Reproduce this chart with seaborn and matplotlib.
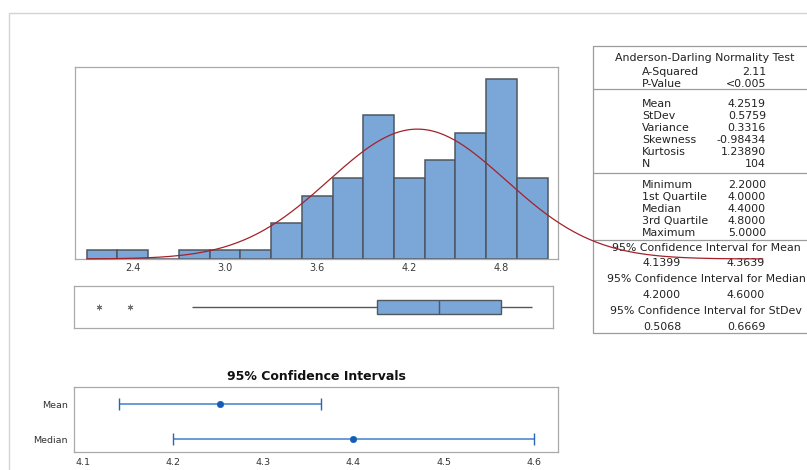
import numpy as np
import matplotlib
matplotlib.use("Agg")
from matplotlib import pyplot as plt
import seaborn as sns

# histogram bins (centres) and counts
bin_centers = [2.2, 2.4, 2.6, 2.8, 3.0, 3.2, 3.4, 3.6, 3.8, 4.0, 4.2, 4.4, 4.6, 4.8, 5.0]
bin_counts = [1, 1, 0, 1, 1, 1, 4, 7, 9, 16, 9, 11, 14, 20, 9]
bin_width = 0.2
hist_ticks = [2.4, 3.0, 3.6, 4.2, 4.8]

# summary statistics
mean_val = 4.2519
stdev_val = 0.5759
ad_labels = ["A-Squared", "P-Value"]
ad_values = ["2.11", "<0.005"]
moment_labels = ["Mean", "StDev", "Variance", "Skewness", "Kurtosis", "N"]
moment_values = ["4.2519", "0.5759", "0.3316", "-0.98434", "1.23890", "104"]
quart_labels = ["Minimum", "1st Quartile", "Median", "3rd Quartile", "Maximum"]
quart_values = ["2.2000", "4.0000", "4.4000", "4.8000", "5.0000"]
ci_titles = ["95% Confidence Interval for Mean",
             "95% Confidence Interval for Median",
             "95% Confidence Interval for StDev"]
ci_low = ["4.1399", "4.2000", "0.5068"]
ci_high = ["4.3639", "4.6000", "0.6669"]

# confidence interval plot
ci_names = ["Mean", "Median"]
ci_points = [4.2519, 4.4]
ci_lo = [4.1399, 4.2]
ci_hi = [4.3639, 4.6]
ci_ticks = [4.1, 4.2, 4.3, 4.4, 4.5, 4.6]

sample = np.repeat(bin_centers, bin_counts)
edges = np.append(np.array(bin_centers) - bin_width / 2, bin_centers[-1] + bin_width / 2)

sns.set_style("white")
plt.rcParams["font.family"] = ["DejaVu Sans"]

W, H = 807, 470
fig = plt.figure(figsize=(W / 100, H / 100), dpi=100)

def box(left, top, right, bottom):
    return [left / W, 1 - bottom / H, (right - left) / W, (bottom - top) / H]

frame_col = "#a9a9a9"
text_col = "#333333"
bar_col = "#7ba6d8"
edge_col = "#4f5761"

# overlay in pixel coords for the table and outer frame
bg = fig.add_axes([0, 0, 1, 1])
bg.set_xlim(0, W)
bg.set_ylim(H, 0)
bg.axis("off")
bg.plot([9, W], [13, 13], color="#d4d4d4", lw=1)
bg.plot([9, 9], [13, H], color="#d4d4d4", lw=1)
bg.add_patch(plt.Rectangle((593, 46), W - 593 + 2, 287, fill=False,
                           ec="#9c9c9c", lw=0.9, clip_on=False))
for yy in [89, 173, 240]:
    bg.plot([593, W], [yy, yy], color="#9c9c9c", lw=0.9)

fs = 7.9
tk = dict(fontsize=fs, color="#222222", va="center")
bg.text(705, 58, "Anderson-Darling Normality Test", ha="center", **tk)
rows = [(ad_labels, ad_values, 72), (moment_labels, moment_values, 104),
        (quart_labels, quart_values, 185)]
for labs, vals, y0 in rows:
    for i, (lab, val) in enumerate(zip(labs, vals)):
        bg.text(642, y0 + i * 12, lab, ha="left", **tk)
        bg.text(766, y0 + i * 12, val, ha="right", **tk)
for i, title in enumerate(ci_titles):
    y0 = 248 + i * 31.5
    bg.text(706, y0, title, ha="center", **tk)
    bg.text(662, y0 + 15.5, ci_low[i], ha="center", **tk)
    bg.text(746, y0 + 15.5, ci_high[i], ha="center", **tk)

# histogram with fitted normal curve
ax_h = fig.add_axes(box(75, 67, 558, 259))
sns.histplot(x=sample, bins=edges, ax=ax_h, color=bar_col, alpha=1,
             edgecolor=edge_col, linewidth=1.1)
xs = np.linspace(edges[0], 6.5, 400)
ys = len(sample) * bin_width * np.exp(-0.5 * ((xs - mean_val) / stdev_val) ** 2) / (stdev_val * np.sqrt(2 * np.pi))
ax_h.plot(xs, ys, color="#a3222a", lw=0.9, clip_on=False, zorder=5)
ax_h.set_xlim(2.024, 5.167)
ax_h.set_ylim(0, 21.3)
ax_h.set_xticks(hist_ticks)
ax_h.set_xticklabels([f"{t:.1f}" for t in hist_ticks])
ax_h.set_yticks([])
ax_h.set_xlabel("")
ax_h.set_ylabel("")
ax_h.tick_params(axis="x", length=0, pad=3, labelsize=7, labelcolor="#3a3a3a")

# boxplot
ax_b = fig.add_axes(box(74, 286, 553, 328))
sns.boxplot(x=sample, ax=ax_b, color=bar_col, width=0.33, whis=1.5001,
            showcaps=False, linecolor=edge_col, linewidth=1.0, saturation=1,
            flierprops=dict(marker=(6, 2, 0), markersize=4,
                            markeredgecolor="#707070", markeredgewidth=0.7))
ax_b.set_xlim(2.04, 5.137)
ax_b.set_ylim(0.5, -0.5)
ax_b.set_xticks([])
ax_b.set_yticks([])
ax_b.set_xlabel("")

# confidence interval plot
ax_c = fig.add_axes(box(74, 387, 558, 452))
ypos = list(range(len(ci_names)))
err = [np.subtract(ci_points, ci_lo), np.subtract(ci_hi, ci_points)]
ax_c.errorbar(ci_points, ypos, xerr=err, fmt="none", ecolor="#6a9ad6",
              elinewidth=1.4, capsize=0)
ax_c.plot(ci_lo + ci_hi, ypos + ypos, ls="none", marker="|", markersize=8,
          color="#2a64b4", markeredgewidth=1.0)
sns.scatterplot(x=ci_points, y=ypos, ax=ax_c, color="#135db5", s=22,
                edgecolor="#135db5", zorder=4)
ax_c.set_xlim(4.0903, 4.6267)
ax_c.set_ylim(1.37, -0.486)
ax_c.set_yticks(ypos)
ax_c.set_yticklabels(ci_names)
ax_c.set_xticks(ci_ticks)
ax_c.set_xticklabels([f"{t:.1f}" for t in ci_ticks])
ax_c.tick_params(axis="both", length=2.5, width=0.6, color=frame_col,
                 labelsize=6.8, labelcolor=text_col, pad=2)
ax_c.set_title("95% Confidence Intervals", fontsize=9, fontweight="bold",
               color="#111111", pad=5)

for a in (ax_h, ax_b, ax_c):
    for s in a.spines.values():
        s.set_visible(True)
        s.set_color(frame_col)
        s.set_linewidth(0.9)

fig.savefig("out.png", dpi=100)
